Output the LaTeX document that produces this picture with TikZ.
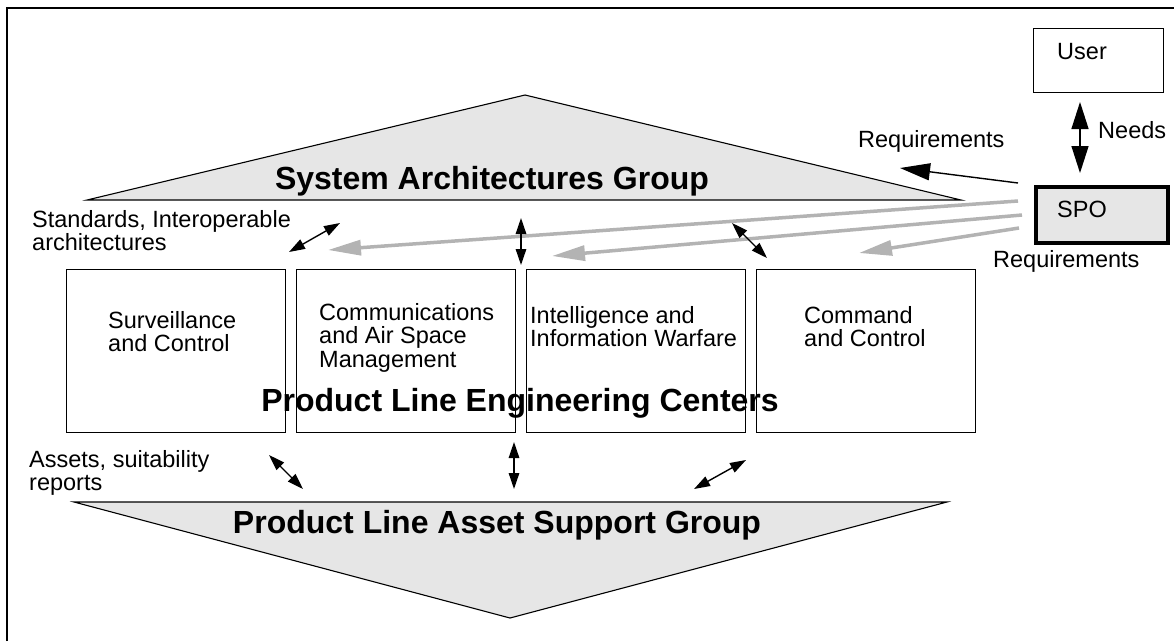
\documentclass[tikz,border=0pt]{standalone}
\usepackage{fontspec}
\setmainfont{Liberation Sans}
\usetikzlibrary{arrows.meta}
\definecolor{lightg}{HTML}{E6E6E6}
\definecolor{arrowgray}{HTML}{B3B3B3}
\begin{document}
\begin{tikzpicture}[x=1pt,y=-1pt,
  centerbox/.style={draw, line width=1.2pt, minimum width=219pt, minimum height=163pt, anchor=north west, inner sep=0pt},
  txt/.style={anchor=base west, inner sep=0pt, font=\fontsize{23.5}{23.7}\selectfont},
  bigtitle/.style={anchor=base, inner sep=0pt, font=\fontsize{32}{36}\selectfont\bfseries},
  dbl/.style={{Triangle[length=16pt,width=10.5pt]}-{Triangle[length=16pt,width=10.5pt]}, line width=1.4pt},
  bigdbl/.style={{Triangle[length=27pt,width=17pt]}-{Triangle[length=27pt,width=17pt]}, line width=1.4pt},
  req/.style={-{Triangle[length=30pt,width=17pt]}, line width=1.4pt},
  grayreq/.style={-{Triangle[length=33pt,width=15pt]}, line width=3.5pt, draw=arrowgray},
  groupshape/.style={fill=lightg, draw=black, line width=1.1pt, line join=miter}
]
\useasboundingbox (0,0) rectangle (1174,641);
% frame
\draw[line width=1.5pt] (7,641) -- (7,8) -- (1174,8);

% triangles
\filldraw[groupshape] (87,200) -- (525,95) -- (961,200) -- cycle;
\filldraw[groupshape] (74,502) -- (947,502) -- (510,618) -- cycle;

% titles
\node[bigtitle] (sag) at (492,189) {System Architectures Group};
\node[bigtitle] (plec) at (520,411) {Product Line Engineering Centers};
\node[bigtitle] (plasg) at (497,533) {Product Line Asset Support Group};

% product line boxes
\node[centerbox] (b1) at (66,269) {};
\node[centerbox] (b2) at (296,269) {};
\node[centerbox] (b3) at (526,269) {};
\node[centerbox] (b4) at (756,269) {};
\node[txt] (t1) at (108,328) {\vtop{\hbox{Surveillance}\hbox{and Control}}};
\node[txt] (t2) at (319,320) {\vtop{\hbox{Communications}\hbox{and Air Space}\hbox{Management}}};
\node[txt] (t3) at (530,323) {\vtop{\hbox{Intelligence and}\hbox{Information Warfare}}};
\node[txt] (t4) at (804,323) {\vtop{\hbox{Command}\hbox{and Control}}};

% user and SPO
\node[draw, line width=1.2pt, minimum width=130pt, minimum height=64pt, anchor=north west, inner sep=0pt] (user) at (1033,28) {};
\node[txt] (usertxt) at (1057,59) {User};
\node[draw, fill=lightg, line width=4pt, minimum width=132pt, minimum height=56pt, anchor=north west, inner sep=0pt] (spo) at (1034,185) {};
\node[txt] (spotxt) at (1057,217) {SPO};

% labels
\node[txt] (needs) at (1098,138) {Needs};
\node[txt] (req1) at (858,147) {Requirements};
\node[txt] (req2) at (993,267) {Requirements};
\node[txt] (std) at (32,227) {\vtop{\hbox{Standards, Interoperable}\hbox{architectures}}};
\node[txt] (assets) at (29,467) {\vtop{\hbox{Assets, suitability}\hbox{reports}}};

% arrow end coordinates
\coordinate (na) at (1080,102);
\coordinate (nb) at (1080,173);
\coordinate (ra) at (1018,183);
\coordinate (rb) at (900,168);
\coordinate (g1a) at (1018,201);
\coordinate (g1b) at (328,250);
\coordinate (g2a) at (1022,215);
\coordinate (g2b) at (552,256);
\coordinate (g3a) at (1019,228);
\coordinate (g3b) at (859,253);
\coordinate (d1a) at (289,252);
\coordinate (d1b) at (340,223);
\coordinate (d2a) at (521,218);
\coordinate (d2b) at (521,265);
\coordinate (d3a) at (732,223);
\coordinate (d3b) at (767,258);
\coordinate (e1a) at (269,455);
\coordinate (e1b) at (303,489);
\coordinate (e2a) at (514,442);
\coordinate (e2b) at (514,489);
\coordinate (e3a) at (694,489);
\coordinate (e3b) at (746,460);

% arrows
\draw[bigdbl] (na) -- (nb);
\draw[req] (ra) -- (rb);
\draw[grayreq] (g1a) -- (g1b);
\draw[grayreq] (g2a) -- (g2b);
\draw[grayreq] (g3a) -- (g3b);
\draw[dbl] (d1a) -- (d1b);
\draw[dbl] (d2a) -- (d2b);
\draw[dbl] (d3a) -- (d3b);
\draw[dbl] (e1a) -- (e1b);
\draw[dbl] (e2a) -- (e2b);
\draw[dbl] (e3a) -- (e3b);
\end{tikzpicture}
\end{document}
